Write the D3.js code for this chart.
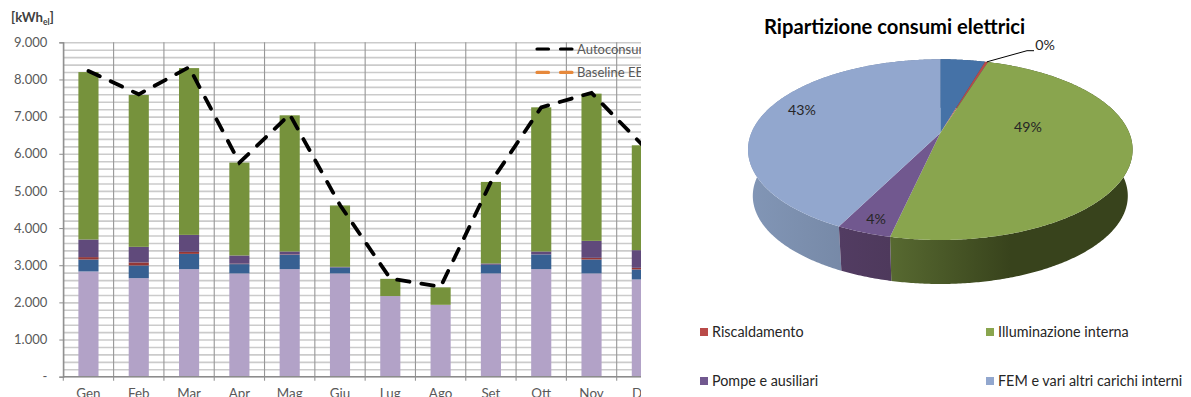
<!DOCTYPE html>
<html>
<head>
<meta charset="utf-8">
<script src="https://cdn.jsdelivr.net/npm/d3@7"></script>
<style>
  html, body { margin: 0; padding: 0; background: #fff; overflow: hidden; }
  text { font-family: Lato, "Noto Sans", sans-serif; }
</style>
</head>
<body>
<svg id="chart" width="1191" height="397"></svg>
<script>
// Monthly electricity use, kWh
const months = ["Gen", "Feb", "Mar", "Apr", "Mag", "Giu", "Lug", "Ago", "Set", "Ott", "Nov", "Dic"];
const stackKeys = ["fem", "base", "heating", "pumps", "lighting"];
const fem = [2833, 2653, 2895, 2780, 2895, 2780, 2170, 1935, 2780, 2895, 2780, 2618];
const base = [322, 341, 411, 250, 385, 160, 0, 0, 232, 395, 375, 269];
const heating = [63, 81, 54, 12, 10, 0, 0, 0, 0, 0, 45, 43];
const pumps = [475, 420, 457, 221, 80, 17, 0, 0, 36, 80, 456, 476];
const lighting = [4506, 4086, 4489, 2500, 3665, 1650, 464, 468, 2194, 3880, 3962, 2822];
const selfConsumption = [8226, 7600, 8330, 5760, 7060, 4620, 2640, 2420, 5240, 7250, 7640, 6250];
const yMajorTicks = [0, 1000, 2000, 3000, 4000, 5000, 6000, 7000, 8000, 9000];
const lineLegend = ["Autoconsumo", "Baseline EE"];

// Yearly split of consumption, percent
const pieNames = ["Altro", "Riscaldamento", "Illuminazione interna", "Pompe e ausiliari", "FEM e vari altri carichi interni"];
const pieShares = [4.5, 0.3, 48.7, 3.9, 42.6];

const stackColors = { fem: "#b2a2c7", base: "#376092", heating: "#953735", pumps: "#604a7b", lighting: "#76923c" };
const svg = d3.select("#chart");
const inkGray = "#595959";

/* ---------- stacked columns ---------- */
const plot = { left: 63.3, right: 667, top: 42.3, bottom: 376.7, clipRight: 641 };
const x = d3.scaleBand().domain(months).range([plot.left, plot.right]).paddingInner(0.6).paddingOuter(0.3);
const y = d3.scaleLinear().domain([0, 9000]).range([plot.bottom, plot.top]);
const monthEdge = i => plot.left + i * (plot.right - plot.left) / months.length;

svg.append("defs").append("clipPath").attr("id", "plotClip")
  .append("rect").attr("x", 0).attr("y", 0).attr("width", plot.clipRight).attr("height", 397);

const left = svg.append("g").attr("clip-path", "url(#plotClip)");

// Horizontal grid every 200 kWh
left.append("g")
  .attr("transform", `translate(${plot.left},0)`)
  .call(d3.axisLeft(y).tickValues(d3.range(0, 9001, 200)).tickSize(-(plot.right - plot.left)).tickFormat(""))
  .call(g => g.select(".domain").remove())
  .call(g => g.selectAll("line").attr("stroke", "#cbcbcb").attr("stroke-width", 1.6));

// Vertical separators between the months, extending as ticks below the axis
left.append("g").selectAll("line").data(d3.range(0, months.length + 1)).join("line")
  .attr("x1", monthEdge).attr("x2", monthEdge)
  .attr("y1", plot.top).attr("y2", plot.bottom + 4)
  .attr("stroke", "#979797").attr("stroke-width", 1.1);

const rows = months.map((m, i) => ({ month: m, fem: fem[i], base: base[i], heating: heating[i], pumps: pumps[i], lighting: lighting[i] }));
const stacked = d3.stack().keys(stackKeys)(rows);
left.append("g").selectAll("g").data(stacked).join("g")
  .attr("fill", d => stackColors[d.key])
  .selectAll("rect").data(d => d).join("rect")
  .attr("x", d => x(d.data.month))
  .attr("width", x.bandwidth())
  .attr("y", d => y(d[1]))
  .attr("height", d => y(d[0]) - y(d[1]));

// Axis baseline and value axis
left.append("line")
  .attr("x1", plot.left).attr("x2", plot.right)
  .attr("y1", plot.bottom).attr("y2", plot.bottom)
  .attr("stroke", "#8c8c8c").attr("stroke-width", 1.2);

const yAxis = svg.append("g").attr("transform", `translate(${plot.left},0)`)
  .call(d3.axisLeft(y).tickValues(yMajorTicks).tickSize(4).tickPadding(12)
    .tickFormat(d => d === 0 ? "-" : d3.format(",")(d).replace(",", ".")));
yAxis.select(".domain").attr("stroke", "#8c8c8c").attr("stroke-width", 1.2);
yAxis.selectAll("line").attr("stroke", "#8c8c8c");
yAxis.selectAll("text").attr("fill", inkGray).attr("font-size", 13).attr("font-family", "Lato");

// Month labels
left.append("g").selectAll("text").data(months).join("text")
  .attr("x", d => x(d) + x.bandwidth() / 2)
  .attr("y", 398)
  .attr("text-anchor", "middle")
  .attr("fill", inkGray).attr("font-size", 13.4)
  .text(d => d);

// Self-consumption line
const linePath = d3.line().x((d, i) => x(months[i]) + x.bandwidth() / 2).y(d => y(d));
left.append("path").datum(selfConsumption)
  .attr("d", linePath)
  .attr("fill", "none").attr("stroke", "#000").attr("stroke-width", 3.8)
  .attr("stroke-linecap", "round").attr("stroke-dasharray", "12.5 12");

// Unit label with subscript
const unit = svg.append("text").attr("x", 11).attr("y", 22).attr("font-size", 13.2).attr("font-weight", 700).attr("fill", "#404040");
unit.append("tspan").text("[kWh");
unit.append("tspan").attr("dy", 3).attr("font-size", 8.5).text("el");
unit.append("tspan").attr("dy", -3).text("]");

// Line legend, cut by the chart's right edge
const lineLegendGroup = left.append("g").selectAll("g").data(lineLegend).join("g")
  .attr("transform", (d, i) => `translate(0,${49 + i * 23.4})`);
lineLegendGroup.append("line")
  .attr("x1", 537).attr("x2", 572.5).attr("y1", 0).attr("y2", 0)
  .attr("stroke", (d, i) => i === 0 ? "#000" : "#e6893c")
  .attr("stroke-width", 3.2).attr("stroke-linecap", "round").attr("stroke-dasharray", "11.5 12");
lineLegendGroup.append("text")
  .attr("x", 577).attr("y", 4.5)
  .attr("fill", inkGray).attr("font-size", 13)
  .text(d => d);

/* ---------- pie seen in perspective ---------- */
const rimColors = ["#4572a7", "#b94a48", "#89a54e", "#71588f", "#92a7ce"];
const wallStops = [
  ["#2f4f75", "#2f4f75"],
  ["#7c3230", "#7c3230"],
  ["#586a31", "#38431c"],
  ["#523c62", "#4e395c"],
  ["#8296b6", "#6b7c98"]
];
const persp = 0.184;
const topFace = { cx: 940.3, cy: 133, a: 189, b: 87.3 };
const bottomFace = { cx: 940.3, cy: 179.7, a: 184.3, b: 85.1 };

function rim(face, theta) {
  const u = Math.sin(theta), v = -Math.cos(theta), w = 1 - persp * v;
  return [face.cx + face.a * u / w, face.cy + face.b * v / w];
}
function arcPoints(face, a0, a1) {
  const n = Math.max(2, Math.ceil((a1 - a0) / 0.01));
  return d3.range(n + 1).map(i => rim(face, a0 + (a1 - a0) * i / n));
}

const slices = d3.pie().sort(null)(pieShares);
const pie = svg.append("g");
const defs = svg.select("defs");
const polyLine = d3.line();

// Side wall first, so the top face covers whatever sits behind it
const wallOrder = [0, 1, 4, 2, 3];
wallOrder.forEach(i => {
  const s = slices[i];
  const top = arcPoints(topFace, s.startAngle, s.endAngle);
  const bottom = arcPoints(bottomFace, s.startAngle, s.endAngle).reverse();
  const xs = top.map(p => p[0]);
  const gx0 = i === 2 ? 888 : d3.min(xs), gx1 = i === 2 ? 1010 : Math.max(d3.max(xs), i === 4 ? 840 : 0);
  const grad = defs.append("linearGradient").attr("id", "wall" + i)
    .attr("gradientUnits", "userSpaceOnUse")
    .attr("x1", gx0).attr("x2", gx1).attr("y1", 0).attr("y2", 0);
  grad.append("stop").attr("offset", 0).attr("stop-color", wallStops[i][0]);
  grad.append("stop").attr("offset", 1).attr("stop-color", wallStops[i][1]);
  pie.append("path")
    .attr("d", polyLine(top.concat(bottom)) + "Z")
    .attr("fill", `url(#wall${i})`);
});

slices.forEach((s, i) => {
  const pts = [[topFace.cx, topFace.cy]].concat(arcPoints(topFace, s.startAngle, s.endAngle));
  pie.append("path")
    .attr("d", polyLine(pts) + "Z")
    .attr("fill", rimColors[i]);
});

// Percent labels; the first slice carries none
const pct = d3.format(".0f");
const labelSpots = [null, [1045, 45], [1028, 127], [876, 219], [802, 110]];
pie.append("g").selectAll("text").data(pieShares).join("text")
  .filter((d, i) => labelSpots[i])
  .attr("x", d => labelSpots[pieShares.indexOf(d)][0])
  .attr("y", d => labelSpots[pieShares.indexOf(d)][1] + 5)
  .attr("text-anchor", "middle")
  .attr("fill", "#262626").attr("font-size", 14.2)
  .text(d => pct(d) + "%");

// Leader for the very thin heating slice
const heatMid = rim(topFace, slices[1].startAngle + (slices[1].endAngle - slices[1].startAngle) / 2);
pie.append("path").datum([heatMid, [1027, 50.7], [1034, 50.7]])
  .attr("d", polyLine).attr("fill", "none").attr("stroke", "#000").attr("stroke-width", 1);

// Pie title
svg.append("text").attr("x", 764).attr("y", 33.5)
  .attr("font-size", 20.2).attr("font-weight", 700).attr("fill", "#000")
  .text("Ripartizione consumi elettrici");

// Pie legend; the first entry lies outside the visible area
const legendSpots = [[700, 337], [986, 337], [700, 386], [986, 386]];
const legendItems = svg.append("g").selectAll("g").data(pieNames.slice(1)).join("g")
  .attr("transform", (d, i) => `translate(${legendSpots[i][0]},${legendSpots[i][1]})`);
legendItems.append("rect").attr("x", 0).attr("y", -9).attr("width", 8).attr("height", 8)
  .attr("fill", (d, i) => rimColors[i + 1]);
legendItems.append("text").attr("x", 12).attr("y", 0)
  .attr("fill", "#262626").attr("font-size", 14.35)
  .text(d => d);
</script>
</body>
</html>
